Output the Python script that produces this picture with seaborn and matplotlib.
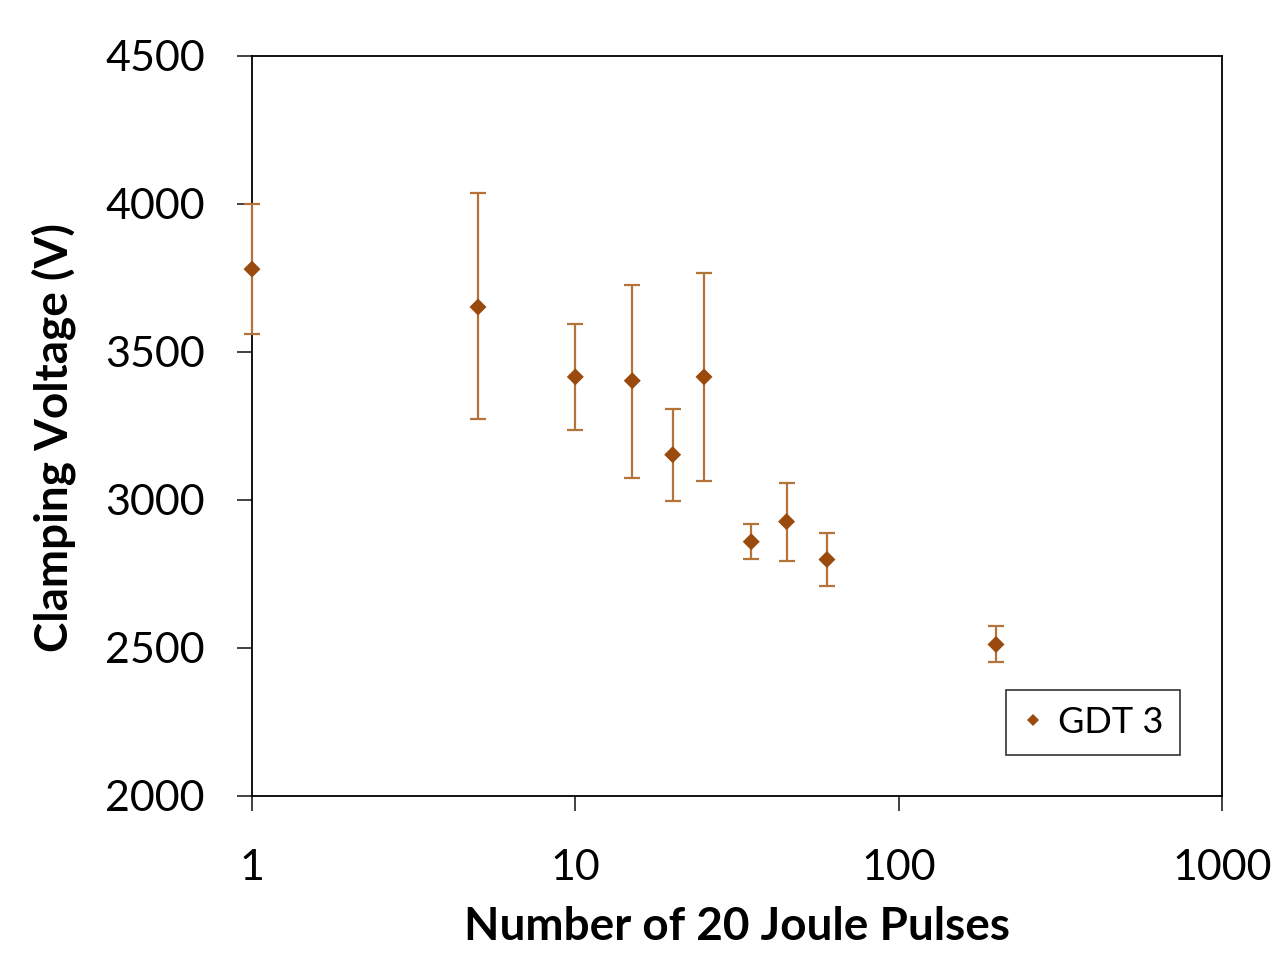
import matplotlib
matplotlib.use("Agg")
import matplotlib.pyplot as plt
import seaborn as sns
import pandas as pd
import numpy as np

# Data
pulses = [1, 5, 10, 15, 20, 25, 35, 45, 60, 200]
voltage = [3780, 3652, 3416, 3403, 3153, 3416, 2859, 2927, 2799, 2512]
upper = [4000, 4037, 3595, 3727, 3308, 3767, 2920, 3058, 2887, 2573]
lower = [3561, 3272, 3235, 3076, 2995, 3065, 2799, 2795, 2711, 2454]
series_name = "GDT 3"
x_ticks = [1, 10, 100, 1000]
y_ticks = [2000, 2500, 3000, 3500, 4000, 4500]

df = pd.DataFrame({"pulses": pulses, "voltage": voltage, "series": series_name})

sns.set_theme(style="white")
plt.rcParams['font.family'] = ['Lato', 'DejaVu Sans']
plt.rcParams['text.color'] = 'black'
plt.rcParams['axes.labelcolor'] = 'black'

marker_color = "#9A4A0C"
err_color = "#B5733A"

fig = plt.figure(figsize=(12.88, 9.77), dpi=100)
ax = fig.add_axes([252/1288, 1 - 796/977, (1222-252)/1288, (796-56)/977])

yerr = [np.array(voltage) - np.array(lower), np.array(upper) - np.array(voltage)]
eb = ax.errorbar(pulses, voltage, yerr=yerr, fmt="none", ecolor=err_color,
                 elinewidth=1.6, capsize=6, capthick=1.6, zorder=4)
for art in eb.lines[1] + eb.lines[2]:
    art.set_clip_on(False)
sns.scatterplot(data=df, x="pulses", y="voltage", hue="series",
                palette=[marker_color], marker="D", s=75, edgecolor=marker_color,
                linewidth=0, ax=ax, zorder=5, clip_on=False)

ax.set_xscale("log")
ax.set_xlim(1, 1000)
ax.set_ylim(2000, 4500)
ax.set_xticks(x_ticks)
ax.set_xticklabels([str(t) for t in x_ticks])
ax.set_yticks(y_ticks)
ax.set_yticklabels([str(t) for t in y_ticks])
ax.minorticks_off()
ax.xaxis.set_minor_locator(matplotlib.ticker.NullLocator())

for s in ax.spines.values():
    s.set_color("black")
    s.set_linewidth(1.3)
    s.set_visible(True)
    s.set_zorder(3)

ax.tick_params(axis="both", which="major", direction="out", length=11,
               width=1.3, color="#333333", labelsize=31, labelcolor="black",
               left=True, bottom=True)
ax.tick_params(axis="x", pad=27)
ax.tick_params(axis="y", pad=23)

ax.set_xlabel("Number of 20 Joule Pulses", fontsize=33, fontweight="bold",
              labelpad=14, color="black")
ax.set_ylabel("Clamping Voltage (V)", fontsize=33, fontweight="bold",
              labelpad=20, color="black")
ax.yaxis.set_label_coords(-0.181, 0.485)

leg = ax.legend(loc="lower right", bbox_to_anchor=(928/970, 41/740), borderaxespad=0,
                frameon=True, fancybox=False, fontsize=26, handletextpad=0.4,
                borderpad=0.45, markerscale=0.7, handlelength=0.6)
leg.get_frame().set_edgecolor("black")
leg.get_frame().set_linewidth(1.2)
for t in leg.get_texts():
    t.set_color("black")

fig.savefig("out.png", dpi=100, facecolor="white")
